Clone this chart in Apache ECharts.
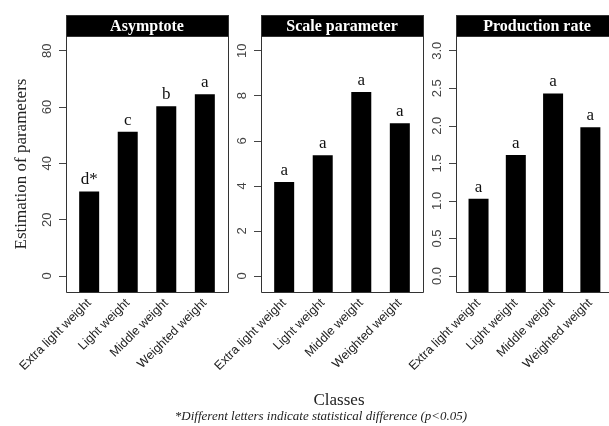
<!DOCTYPE html>
<html>
<head>
<meta charset="utf-8">
<script src="https://cdn.jsdelivr.net/npm/echarts@6/dist/echarts.min.js"></script>
<style>
html,body{margin:0;padding:0;background:#fff;}
#c{width:609px;height:426px;}
</style>
</head>
<body>
<div id="c"></div>
<script>
const categories = ['Extra light weight', 'Light weight', 'Middle weight', 'Weighted weight'];
const panelTitles = ['Asymptote', 'Scale parameter', 'Production rate'];
const asymptote = [30.0, 51.2, 60.3, 64.5];
const scaleParameter = [4.17, 5.36, 8.17, 6.78];
const productionRate = [1.03, 1.61, 2.43, 1.98];
const asymptoteLetters = ['d*', 'c', 'b', 'a'];
const scaleLetters = ['a', 'a', 'a', 'a'];
const productionLetters = ['a', 'a', 'a', 'a'];
const asymptoteTicks = [0, 20, 40, 60, 80];
const scaleTicks = [0, 2, 4, 6, 8, 10];
const productionTicks = [0, 0.5, 1, 1.5, 2, 2.5, 3];
const axisRanges = [[-5.68, 85.2], [-0.71, 10.65], [-0.213, 3.196]];
const tickDecimals = [0, 0, 1];
const yTitle = 'Estimation of parameters';
const xTitle = 'Classes';
const footnote = '*Different letters indicate statistical difference (p<0.05)';

const panels = [
  {values: asymptote, letters: asymptoteLetters, ticks: asymptoteTicks},
  {values: scaleParameter, letters: scaleLetters, ticks: scaleTicks},
  {values: productionRate, letters: productionLetters, ticks: productionTicks}
];

const panelLeft = [66, 261, 456];
const panelWidth = 162;
const boxTop = 15, headerH = 21, plotBottom = 292;
const inset = 3.9;

const serif = '"Liberation Serif", "DejaVu Serif", serif';
const sans = '"Liberation Sans", Arial, sans-serif';

const grids = [], xAxes = [], yAxes = [], series = [], graphics = [];

panels.forEach((p, i) => {
  const L = panelLeft[i];
  grids.push({
    left: L + inset, width: panelWidth - 2 * inset,
    top: boxTop + headerH, height: plotBottom - boxTop - headerH,
    containLabel: false
  });
  xAxes.push({
    type: 'category', gridIndex: i, data: categories,
    axisLine: {show: false}, axisTick: {show: false},
    axisLabel: {rotate: 45, margin: 9, interval: 0, fontFamily: sans, fontSize: 12.5, color: '#222'}
  });
  const dec = tickDecimals[i];
  const y = {
    type: 'value', gridIndex: i, min: axisRanges[i][0], max: axisRanges[i][1],
    offset: inset, splitLine: {show: false},
    axisLine: {show: false},
    axisTick: {show: true, inside: false, length: 7, customValues: p.ticks, lineStyle: {color: '#444', width: 1}},
    axisLabel: {rotate: 90, margin: 12, customValues: p.ticks, fontFamily: sans, fontSize: 13, color: '#444',
      formatter: v => Number(v).toFixed(dec)}
  };
  if (i === 0) {
    Object.assign(y, {name: yTitle, nameLocation: 'middle', nameRotate: 90, nameGap: 36,
      nameTextStyle: {fontFamily: serif, fontSize: 17, color: '#222'}});
  }
  yAxes.push(y);
  // bar extending from the bottom of the plotting region up to the value
  series.push({
    type: 'bar', xAxisIndex: i, yAxisIndex: i, stack: 'p' + i, barWidth: 20,
    data: p.values, itemStyle: {color: '#000'},
    label: {show: true, position: 'top', distance: 3, fontFamily: serif, fontSize: 17, color: '#111',
      formatter: d => p.letters[d.dataIndex]},
    silent: true, animation: false
  });
  series.push({
    type: 'bar', xAxisIndex: i, yAxisIndex: i, stack: 'p' + i, barWidth: 20,
    data: p.values.map(() => axisRanges[i][0]), itemStyle: {color: '#000'},
    silent: true, animation: false
  });
  graphics.push({
    type: 'rect', shape: {x: L + 0.5, y: boxTop + 0.5, width: panelWidth, height: plotBottom - boxTop},
    style: {fill: 'none', stroke: '#333', lineWidth: 1}, z: 10
  });
  graphics.push({
    type: 'rect', shape: {x: L + 0.5, y: boxTop + 0.5, width: panelWidth, height: headerH},
    style: {fill: '#000', stroke: '#333', lineWidth: 1}, z: 10
  });
  graphics.push({
    type: 'text', x: L + panelWidth / 2, y: boxTop + headerH / 2 + 1, z: 11,
    style: {text: panelTitles[i], fill: '#fff', font: 'bold 16px ' + serif, textAlign: 'center', textVerticalAlign: 'middle'}
  });
});

graphics.push({
  type: 'text', x: 339, y: 401, z: 11,
  style: {text: xTitle, fill: '#222', font: '17px ' + serif, textAlign: 'center', textVerticalAlign: 'middle'}
});
graphics.push({
  type: 'text', x: 321, y: 417, z: 11,
  style: {text: footnote, fill: '#222', font: 'italic 13px ' + serif, textAlign: 'center', textVerticalAlign: 'middle'}
});

const chart = echarts.init(document.getElementById('c'), null, {renderer: 'canvas'});
chart.setOption({
  animation: false,
  backgroundColor: '#fff',
  grid: grids, xAxis: xAxes, yAxis: yAxes, series: series, graphic: graphics
});
</script>
</body>
</html>
